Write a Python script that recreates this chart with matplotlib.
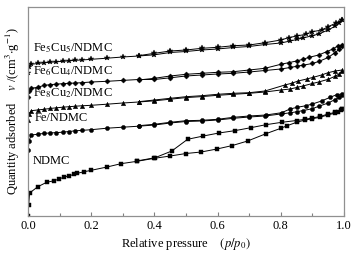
import matplotlib
matplotlib.use("Agg")
import matplotlib.pyplot as plt
from matplotlib.ticker import MultipleLocator

plt.rcParams['font.family'] = ['Liberation Serif', 'DejaVu Serif']
plt.rcParams['mathtext.fontset'] = 'stix'

# Relative pressure grid shared by the adsorption branches of the Fe-based samples
p_ads = [0.0005, 0.003, 0.01, 0.03, 0.05, 0.07, 0.09, 0.11, 0.13, 0.15, 0.17, 0.2,
         0.25, 0.3, 0.35, 0.4, 0.45, 0.5, 0.55, 0.6, 0.65, 0.7, 0.75, 0.8, 0.83,
         0.85, 0.87, 0.9, 0.92, 0.95, 0.97, 0.985, 0.995]

# Quantity adsorbed (arbitrary offset units, curves are stacked)
fe5cu5_ads = [143, 149, 151.7, 152.5, 153.2, 153.7, 154.2, 154.7, 155.2, 155.7, 156, 156.7,
              157.8, 159, 160, 161.2, 163.5, 164.5, 166, 167, 168.5, 169.5, 171.5, 173, 175,
              176.5, 178, 180.3, 182, 186, 189.5, 193, 195.5]
fe5cu5_p_des = [0.995, 0.975, 0.95, 0.93, 0.9, 0.88, 0.85, 0.825, 0.8, 0.75, 0.7, 0.65,
                0.6, 0.55, 0.5, 0.45, 0.4, 0.35]
fe5cu5_des = [196, 193, 189.3, 186, 184.3, 181.7, 180, 178.3, 176, 173.3, 171, 170.3,
              168.7, 167.7, 166, 165, 162.7, 160.3]

fe6cu4_ads = [119, 125, 127.7, 128.7, 130.5, 131.4, 131.8, 132.4, 132.7, 133, 133.3, 134,
              134.7, 135.6, 136.5, 136.5, 138.2, 140, 141, 142, 142.7, 144, 145.5, 147, 148.5,
              149.7, 150.8, 152.5, 154.5, 158.5, 163, 166.7, 170]
fe6cu4_p_des = [0.995, 0.98, 0.965, 0.945, 0.92, 0.89, 0.87, 0.85, 0.825, 0.8, 0.75, 0.7,
                0.65, 0.6, 0.55, 0.5, 0.45, 0.4, 0.35]
fe6cu4_des = [171, 170, 167, 164.3, 161, 158.7, 156.7, 155, 153.3, 151.7, 147.7, 146,
              144.3, 143.7, 142.7, 141.7, 140, 137.7, 136]

fe8cu2_ads = [96, 102, 105.3, 106, 106.7, 107.5, 108.2, 108.8, 109.3, 109.8, 110.2, 110.7,
              111.8, 113, 114, 115.2, 116.8, 118.4, 119.4, 120.7, 121.7, 122.7, 124, 126, 127,
              128.5, 130, 132.5, 134, 136.7, 139.5, 142, 145]
fe8cu2_p_des = [0.995, 0.972, 0.95, 0.929, 0.903, 0.882, 0.855, 0.834, 0.813, 0.75, 0.7,
                0.65, 0.6, 0.55, 0.5, 0.45, 0.4, 0.35]
fe8cu2_des = [146, 145, 143.3, 141, 138.7, 137, 135, 132.7, 131, 125, 123.3, 122.7,
              121.7, 120.3, 119.3, 117.7, 116, 114.3]

fe_ads = [66, 75, 81, 81.7, 82.6, 83, 83.4, 83.8, 84.5, 85.2, 85.6, 86.3,
          87.8, 88.8, 89.8, 91, 93, 94.5, 95, 96, 97.7, 99, 100, 102, 103.2,
          104.2, 105.4, 107.3, 109.7, 113, 116.2, 118.5, 120.5]
fe_p_des = [0.993, 0.977, 0.956, 0.929, 0.9, 0.88, 0.852, 0.829, 0.803, 0.753, 0.7,
            0.65, 0.6, 0.55, 0.5, 0.45, 0.4, 0.35]
fe_des = [122, 121.3, 118.7, 115, 112, 110.3, 108.7, 107, 103.3, 101, 100,
          98.7, 96.7, 95.7, 95.3, 93.7, 91.7, 90.3]

ndmc_p_ads = [0.0005, 0.002, 0.005, 0.031, 0.059, 0.083, 0.098, 0.115, 0.131, 0.147, 0.156,
              0.178, 0.2, 0.25, 0.294, 0.345, 0.4, 0.45, 0.5, 0.548, 0.598, 0.647, 0.695,
              0.753, 0.8, 0.82, 0.85, 0.877, 0.9, 0.924, 0.951, 0.97, 0.98, 0.99, 0.995]
ndmc_ads = [0, 11, 23, 29.3, 33.7, 35.3, 37, 39, 40.3, 41.7, 42.7,
            44.3, 45.7, 49, 52.3, 54.7, 57.7, 60, 62.5, 64, 67, 70.5, 75,
            82.3, 87.7, 90.3, 93.7, 96, 97.3, 98.7, 101.3, 102.7, 104, 106, 107]
ndmc_p_des = [0.995, 0.97, 0.95, 0.924, 0.9, 0.877, 0.85, 0.803, 0.753, 0.705, 0.654,
              0.604, 0.555, 0.505, 0.455, 0.402, 0.344]
ndmc_des = [107, 103.5, 102, 99.5, 98, 96.7, 95.5, 93.7, 91.3, 88.3, 85.3,
            83, 80, 76.7, 65, 58.3, 55]

fig = plt.figure(figsize=(3.64, 2.59), dpi=100)
ax = fig.add_axes([0.077, 0.166, 0.868, 0.807])

def isotherm(p_a, q_a, p_d, q_d, marker, ms):
    kw = dict(color='black', lw=0.7, marker=marker, ms=ms, mfc='black', mec='black', mew=0.3)
    ax.plot(p_a, q_a, **kw)
    ax.plot(p_d, q_d, **kw)

isotherm(p_ads, fe5cu5_ads, fe5cu5_p_des, fe5cu5_des, '*', 4.2)
isotherm(p_ads, fe6cu4_ads, fe6cu4_p_des, fe6cu4_des, 'D', 2.6)
isotherm(p_ads, fe8cu2_ads, fe8cu2_p_des, fe8cu2_des, '^', 3.2)
isotherm(p_ads, fe_ads, fe_p_des, fe_des, 'o', 3.0)
isotherm(ndmc_p_ads, ndmc_ads, ndmc_p_des, ndmc_des, 's', 2.8)

# curve labels
ax.text(0.016, 168, r'Fe$_5$Cu$_5$/NDMC', fontsize=9, va='center')
ax.text(0.016, 144.5, r'Fe$_6$Cu$_4$/NDMC', fontsize=9, va='center')
ax.text(0.016, 123, r'Fe$_8$Cu$_2$/NDMC', fontsize=9, va='center')
ax.text(0.022, 98, 'Fe/NDMC', fontsize=9, va='center')
ax.text(0.016, 55, 'NDMC', fontsize=9, va='center')

ax.set_xlim(0, 1)
ax.set_ylim(0, 209)
ax.xaxis.set_major_locator(MultipleLocator(0.2))
ax.xaxis.set_minor_locator(MultipleLocator(0.1))
ax.tick_params(axis='x', which='major', direction='in', length=3, width=0.8,
               color='#808080', labelsize=9, pad=3)
ax.tick_params(axis='x', which='minor', direction='in', length=2, width=0.8, color='#808080')
ax.set_yticks([])
for s in ax.spines.values():
    s.set_color('#909090')
    s.set_linewidth(0.9)

ax.set_xlabel(r'Relative pressure    $(p/p_0)$', fontsize=9, labelpad=3)
ax.set_ylabel(r'Quantity adsorbed    $v$ /(cm$^3$$\cdot$g$^{-1}$)', fontsize=9, labelpad=4)

fig.savefig('out.png', dpi=100)
